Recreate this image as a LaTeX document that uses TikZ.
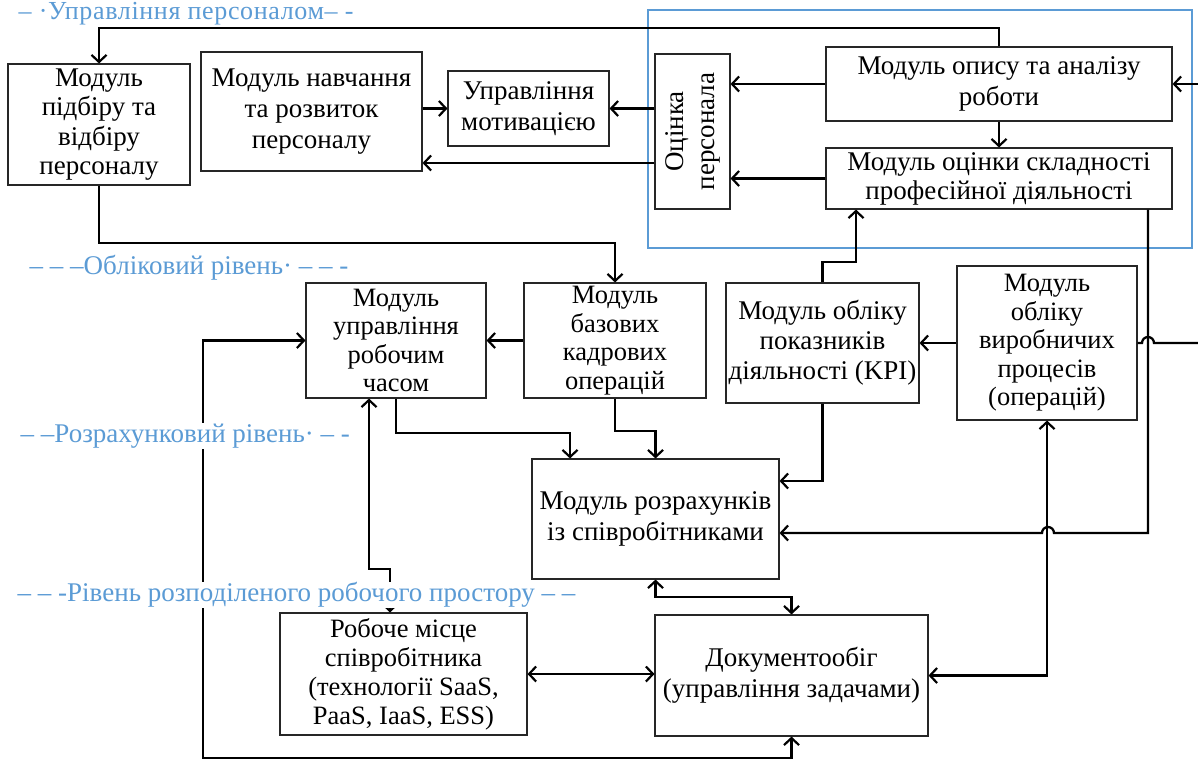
\documentclass[tikz,border=0pt]{standalone}
\usepackage{fontspec}
\setmainfont{Liberation Serif}
\usetikzlibrary{arrows.meta}
\definecolor{lvlblue}{RGB}{91,155,213}
\begin{document}
\begin{tikzpicture}[x=1pt,y=-1pt,
  box/.style={draw=black!85,line width=1.1pt,fill=white,inner sep=0pt,align=center,
              font=\fontsize{27}{31}\selectfont},
  tight/.style={font=\fontsize{26.5}{28.5}\selectfont},
  conn/.style={line width=2.3pt,line join=miter},
  tip/.tip={Straight Barb[length=7pt,width=15pt,line width=2.2pt]},
  arr/.style={conn,-tip},
  darr/.style={conn,tip-tip},
  lvl/.style={text=lvlblue,fill=white,inner sep=0.5pt,anchor=west,
              font=\fontsize{27}{30}\selectfont}]
\useasboundingbox (0,0) rectangle (1198,760);

% personnel management area
\draw[lvlblue,line width=2.2pt] (648,10) rectangle (1192,248);

\node[box,minimum width=182,minimum height=121,font=\fontsize{27}{29.5}\selectfont]
  (pidbir) at (99,124.5) {Модуль\\підбіру та\\відбіру\\персоналу};
\node[box,minimum width=221,minimum height=119] (navch) at (311.5,111.5)
  {Модуль навчання\\та розвиток\\персоналу};
\node[box,minimum width=161,minimum height=75] (motyv) at (528.5,108.5)
  {Управління\\мотивацією};
\node[box,minimum width=75,minimum height=155] (otsinka) at (692.5,131.5) {};
\node[rotate=90,align=center,inner sep=0pt,font=\fontsize{27}{31}\selectfont]
  (otsinkaText) at (otsinka.center) {Оцінка\\персонала};
\node[box,minimum width=346,minimum height=74] (opys) at (999,84)
  {Модуль опису та аналізу\\роботи};
\node[box,minimum width=346,minimum height=61,font=\fontsize{27}{29}\selectfont]
  (sklad) at (999,178.5) {Модуль оцінки складності\\професійної діяльності};

% accounting level
\node[box,tight,minimum width=180,minimum height=115] (chas) at (396,340.5)
  {Модуль\\управління\\робочим\\часом};
\node[box,tight,minimum width=182,minimum height=115] (baz) at (615,340.5)
  {Модуль\\базових\\кадрових\\операцій};
\node[box,minimum width=193,minimum height=120,font=\fontsize{27}{30}\selectfont]
  (kpi) at (822.5,343) {Модуль обліку\\показників\\діяльності (KPI)};
\node[box,tight,minimum width=180,minimum height=154] (vyrob) at (1047,343)
  {Модуль\\обліку\\виробничих\\процесів\\(операцій)};

% settlement level
\node[box,minimum width=247,minimum height=120] (rozr) at (655.5,519)
  {Модуль розрахунків\\із співробітниками};

% distributed workspace level
\node[box,minimum width=247,minimum height=122,font=\fontsize{26.5}{29}\selectfont]
  (robmis) at (403.5,674)
  {Робоче місце\\співробітника\\(технології SaaS,\\PaaS, IaaS, ESS)};
\node[box,minimum width=273,minimum height=121] (doc) at (791.5,675.5)
  {Документообіг\\(управління задачами)};

% connectors
\coordinate (inTop) at (1198,84);
\coordinate (inMid) at (1198,343);
\draw[arr] (opys.north) -- (opys.north |- 0,28) -| (pidbir.north);
\draw[arr] (opys.west) -- (opys.west -| otsinka.east);
\draw[arr] (sklad.west) -- (sklad.west -| otsinka.east);
\draw[arr] (opys.south) -- (sklad.north);
\draw[arr] (inTop) -- (opys.east);
\draw[arr] (otsinka.west |- motyv.east) -- (motyv.east);
\draw[arr] (otsinka.west |- 0,163) -- (navch.east |- 0,163);
\draw[arr] (navch.east |- motyv.west) -- (motyv.west);
\draw[arr] (pidbir.south) -- (pidbir.south |- 0,243) -| (baz.north);
\draw[arr] (baz.west) -- (chas.east);
\draw[arr] (vyrob.west) -- (kpi.east);
\draw[conn] (inMid) -- (1154,343) arc[start angle=0,end angle=-180,radius=6] -- (vyrob.east);
\draw[arr] (kpi.north) -- (kpi.north |- 0,262) -| (sklad.south -| 856,0);
\draw[arr] (sklad.south -| 1148,0) |- (1054,533)
  arc[start angle=0,end angle=-180,radius=6] -- (rozr.east |- 0,533);
\draw[arr] (kpi.south) |- (rozr.east |- 0,481);
\draw[darr] (doc.east) -| (vyrob.south);
\draw[arr] (chas.south -| 396,0) |- (570,433) -- (rozr.north -| 570,0);
\draw[arr] (baz.south) |- (rozr.north |- 0,431) -- (rozr.north);
\draw[darr] (chas.south -| 369,0) |- (390,569) -- (robmis.north -| 390,0);
\draw[darr] (rozr.south) |- (doc.north |- 0,597) -- (doc.north);
\draw[darr] (robmis.east) -- (robmis.east -| doc.west);
\draw[darr] (chas.west) -- (chas.west -| 203,0) -- (203,758) -| (doc.south);

% level captions
\node[lvl,font=\fontsize{26}{30}\selectfont\addfontfeature{LetterSpace=2.5}]
  (lvlUp) at (18,13.5) {– ·Управління персоналом– -};
\node[lvl] (lvlObl) at (29,268) {– – –Обліковий рівень· – – -};
\node[lvl] (lvlRoz) at (20,436) {– –Розрахунковий рівень· – -};
\node[lvl] (lvlRob) at (17,595) {– – -Рівень розподіленого робочого простору – –};
\end{tikzpicture}
\end{document}
